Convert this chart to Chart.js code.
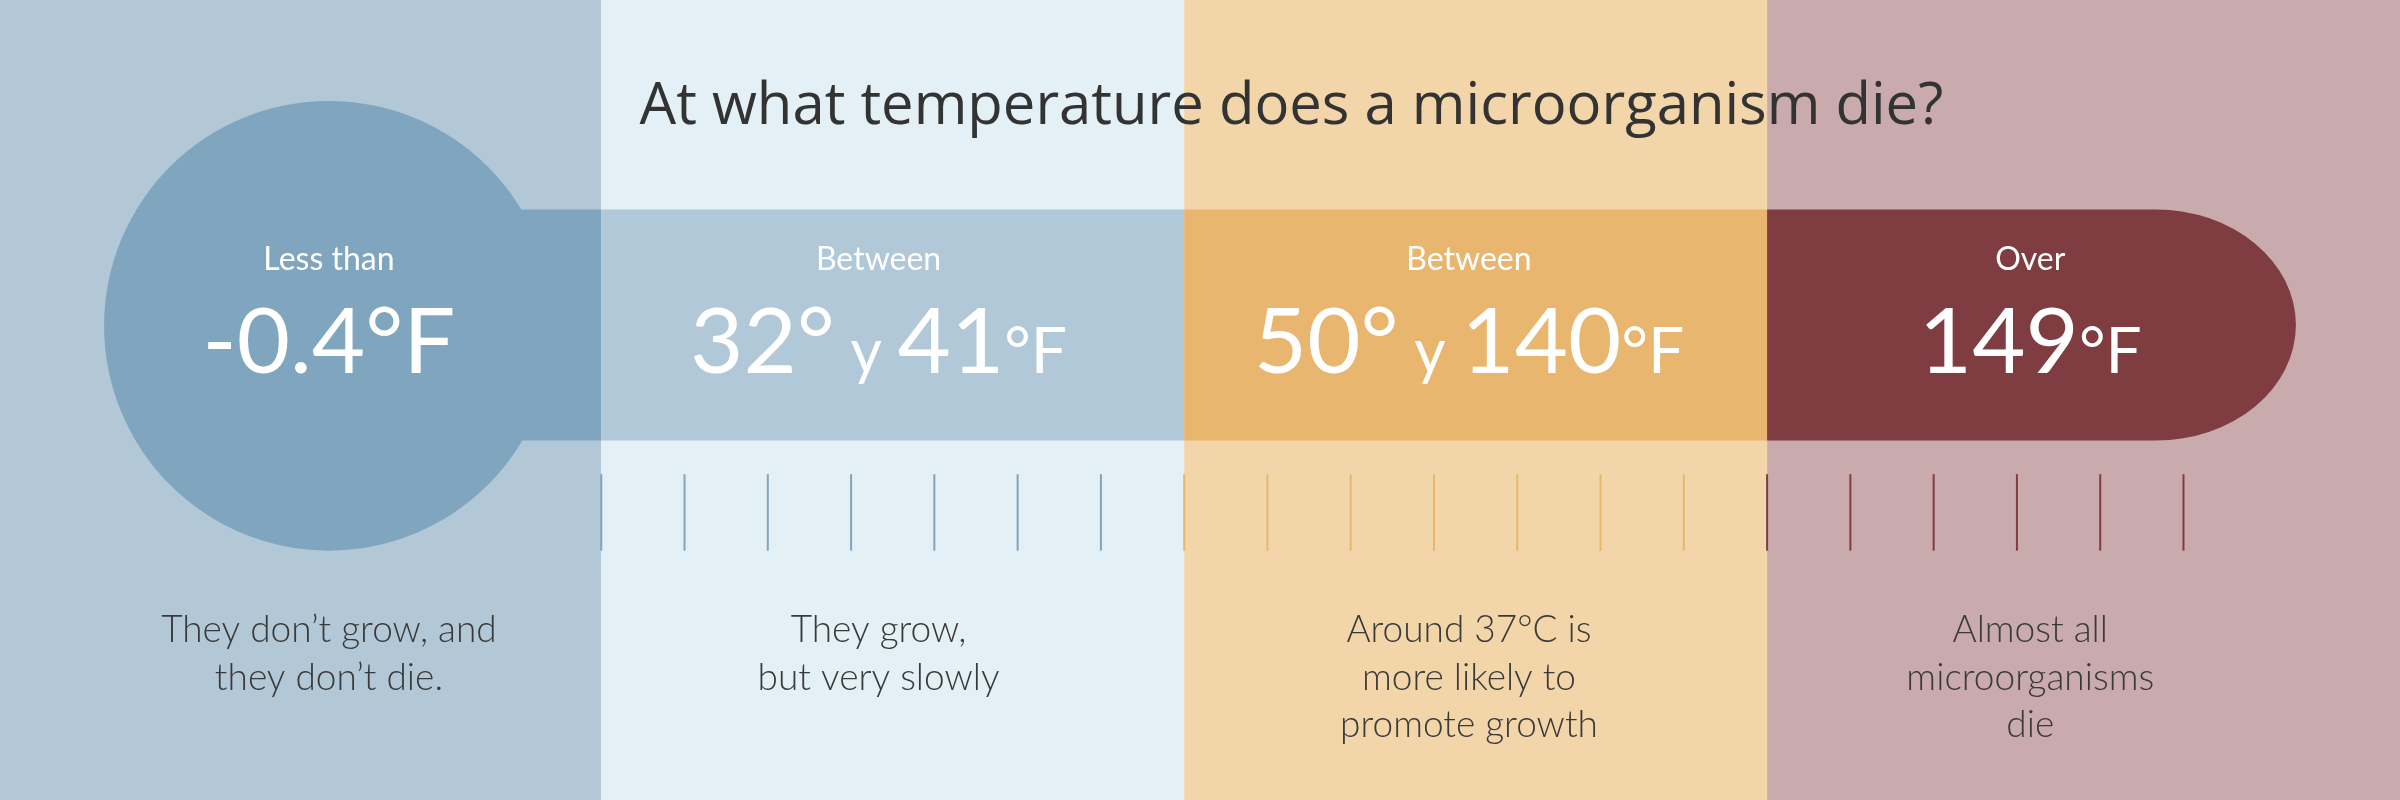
<!DOCTYPE html>
<html>
<head>
<meta charset="utf-8">
<script src="https://cdn.jsdelivr.net/npm/chart.js@4"></script>
<style>
  html, body { margin: 0; padding: 0; background: #fff; }
  #wrap { width: 2400px; height: 800px; position: relative; }
</style>
</head>
<body>
<div id="wrap"><canvas id="c"></canvas></div>
<script>
// x units: one tick spacing; y units: picture rows (0..523, top down)
const TITLE = 'At what temperature does a microorganism die?';
const bandEdges = [-7.22, 0, 7, 14, 21.6];
const bandColors = ['#b2c8d7', '#e3f0f6', '#f2d5a9', '#c9aaad'];
const barEdges = [-0.97, 0, 7, 14, 20.35];
const barColors = ['#7fa5bf', '#b0c8d8', '#e8b66f', '#7f3d42'];
const bulb = { x: -3.27, y: 213, r: 147 };
const barTop = 137, barBottom = 288;
const tickX = [0, 1, 2, 3, 4, 5, 6, 7, 8, 9, 10, 11, 12, 13, 14, 15, 16, 17, 18, 19];
const tickColors = ['#7fa5bf', '#e8b66f', '#7f3d42'];
const labelX = [-3.27, 3.33, 10.42, 17.16];
const headLabels = ['Less than', 'Between', 'Between', 'Over'];
const valueParts = [
  [['-0.4°F', 60]],
  [['32°', 60], [' y ', 40], ['41', 60], ['°F', 42]],
  [['50°', 60], [' y ', 40], ['140', 60], ['°F', 42]],
  [['149', 60], ['°F', 42]]
];
const descLines = [
  ['They don’t grow, and', 'they don’t die.'],
  ['They grow,', 'but very slowly'],
  ['Around 37°C is', 'more likely to', 'promote growth'],
  ['Almost all', 'microorganisms', 'die']
];

const K = 800 / 523;
const FONT = 'Lato, "Open Sans", sans-serif';

const infographic = {
  id: 'infographic',
  beforeDatasetsDraw(chart) {
    const { ctx, scales: { x, y } } = chart;
    const ry = v => y.getPixelForValue(v);
    ctx.save();
    // background bands
    bandColors.forEach((c, i) => {
      const a = x.getPixelForValue(bandEdges[i]), b = x.getPixelForValue(bandEdges[i + 1]);
      ctx.fillStyle = c;
      ctx.fillRect(a, ry(0), b - a, ry(523) - ry(0));
    });
    // bulb
    const rPx = ry(bulb.r) - ry(0);
    ctx.fillStyle = barColors[0];
    ctx.beginPath();
    ctx.arc(x.getPixelForValue(bulb.x), ry(bulb.y), rPx, 0, Math.PI * 2);
    ctx.fill();
    // bar segments
    const t = ry(barTop), bt = ry(barBottom), h = bt - t;
    barColors.forEach((c, i) => {
      const a = x.getPixelForValue(barEdges[i]), b = x.getPixelForValue(barEdges[i + 1]);
      ctx.fillStyle = c;
      ctx.beginPath();
      if (i === barColors.length - 1) {
        const rx = 140, r2 = h / 2;
        ctx.moveTo(a, t);
        ctx.lineTo(b - rx, t);
        ctx.ellipse(b - rx, t + r2, rx, r2, 0, -Math.PI / 2, Math.PI / 2);
        ctx.lineTo(a, bt);
      } else {
        ctx.rect(a, t, b - a, h);
      }
      ctx.fill();
    });
    ctx.restore();
  },
  afterDatasetsDraw(chart) {
    const { ctx, scales: { x, y } } = chart;
    const ry = v => y.getPixelForValue(v);
    ctx.save();
    ctx.textBaseline = 'middle';
    ctx.fillStyle = '#333';
    ctx.textAlign = 'left';
    ctx.font = `${Math.round(38 * K)}px "Open Sans", sans-serif`;
    ctx.fillText(TITLE, x.getPixelForValue((418 - 393) / 54.43), ry(70));
    labelX.forEach((lx, i) => {
      const cx = x.getPixelForValue(lx);
      ctx.fillStyle = '#fff';
      ctx.textAlign = 'center';
      ctx.font = `${Math.round(21 * K)}px ${FONT}`;
      ctx.fillText(headLabels[i], cx, ry(170));
      // value pieces, centered as a whole, aligned on baseline
      ctx.textAlign = 'left';
      ctx.textBaseline = 'alphabetic';
      const parts = valueParts[i];
      let w = 0;
      parts.forEach(([s, sz]) => { ctx.font = `${Math.round(sz * K)}px ${FONT}`; w += ctx.measureText(s).width; });
      let px = cx - w / 2;
      parts.forEach(([s, sz]) => {
        ctx.font = `${Math.round(sz * K)}px ${FONT}`;
        ctx.fillText(s, px, ry(244));
        px += ctx.measureText(s).width;
      });
      ctx.textBaseline = 'middle';
      ctx.textAlign = 'center';
      ctx.fillStyle = '#3a3a3a';
      ctx.font = `300 ${Math.round(24 * K)}px ${FONT}`;
      descLines[i].forEach((l, j) => ctx.fillText(l, cx, ry(412 + j * 31)));
    });
    ctx.restore();
  }
};

new Chart(document.getElementById('c'), {
  type: 'scatter',
  data: {
    datasets: [{
      data: tickX.map(v => ({ x: v, y: 335 })),
      pointStyle: 'line',
      rotation: 90,
      radius: 25 * K,
      hoverRadius: 25 * K,
      borderWidth: 2,
      clip: false,
      borderColor: tickX.map(v => tickColors[Math.min(2, Math.floor(v / 7))])
    }]
  },
  options: {
    responsive: true,
    maintainAspectRatio: false,
    animation: false,
    layout: { padding: 0, autoPadding: false },
    plugins: { legend: { display: false }, tooltip: { enabled: false } },
    scales: {
      x: { type: 'linear', min: bandEdges[0], max: bandEdges[4], display: false },
      y: { type: 'linear', min: 0, max: 523, reverse: true, display: false }
    }
  },
  plugins: [infographic]
});
</script>
</body>
</html>
